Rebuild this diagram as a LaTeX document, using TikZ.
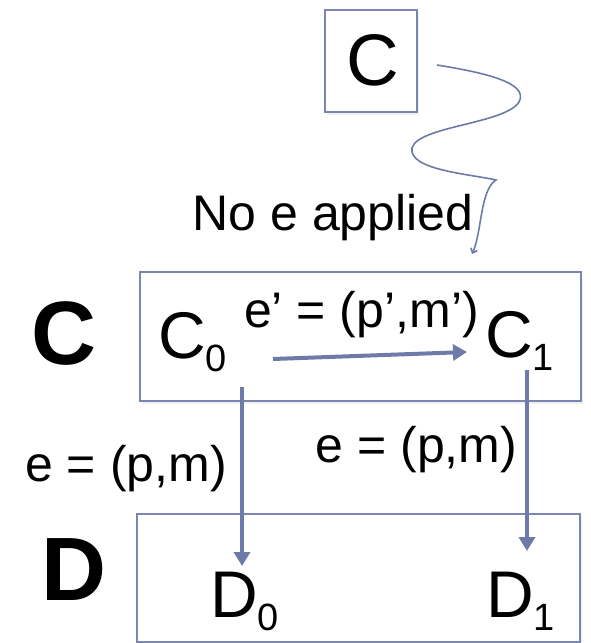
\documentclass[tikz,border=0pt]{standalone}
\usepackage{fontspec}
\setmainfont{Liberation Sans}
\usetikzlibrary{arrows.meta,shadows}
\definecolor{edgeblue}{RGB}{110,123,168}
\definecolor{boxblue}{RGB}{122,134,176}
\tikzset{
  framebox/.style={draw=boxblue,line width=1.5pt,fill=white,inner sep=0pt,
    drop shadow={shadow xshift=1.5pt,shadow yshift=-3pt,opacity=0.12}},
  bigarrow/.style={draw=edgeblue,line width=4pt,-{Triangle[width=16pt,length=14pt]}},
  thinarrow/.style={draw=edgeblue,line width=1.6pt,-{Straight Barb[width=7pt,length=4pt]}},
  lbl/.style={inner sep=0pt,font=\fontsize{50}{58}\selectfont},
  big/.style={inner sep=0pt,font=\fontsize{66}{74}\selectfont},
  huge/.style={inner sep=0pt,font=\fontsize{90}{96}\selectfont\bfseries}
}
\newcommand{\subsc}[1]{\raisebox{-0.21em}{\fontsize{38}{44}\selectfont #1}}
\begin{document}
\begin{tikzpicture}[x=1pt,y=-1pt]
\useasboundingbox (0,0) rectangle (590,643);
% boxes
\node[framebox,minimum width=92pt,minimum height=102pt] (cbox) at (371,61) {};
\node[framebox,minimum width=441pt,minimum height=129pt] (cbig) at (360.5,336.5) {};
\node[framebox,minimum width=443pt,minimum height=128pt] (dbig) at (358.5,578) {};
% texts
\node[inner sep=0pt,anchor=base,font=\fontsize{73}{80}\selectfont] (ctop) at (373,85) {C};
\node[lbl,anchor=base] (noe) at (333,230) {No e applied};
\node[huge,anchor=base] (Clab) at (64,364) {C};
\node[huge,anchor=base] (Dlab) at (73.5,600) {D};
\node[big,anchor=base west] (c0) at (158,358) {C\subsc{0}};
\node[big,anchor=base west] (c1) at (485,357) {C\subsc{1}};
\node[big,anchor=base west] (d0) at (210,617) {D\subsc{0}};
\node[big,anchor=base west] (d1) at (486,617) {D\subsc{1}};
\node[lbl,anchor=base] (ep) at (361.5,327) {e’ = (p’,m’)};
\node[lbl,anchor=base] (el) at (126,481) {e = (p,m)};
\node[lbl,anchor=base] (er) at (416.5,462) {e = (p,m)};
% connector endpoints
\coordinate (w0) at (437,65);
\coordinate (w1) at (472,254);
\coordinate (h0) at (273,359);
\coordinate (h1) at (467,352);
\coordinate (v0a) at (242,387);
\coordinate (v0b) at (242,566);
\coordinate (v1a) at (527,370);
\coordinate (v1b) at (527,551);
% connectors
\draw[thinarrow] (w0) .. controls (480,72) and (530,82) .. (519,102)
  .. controls (505,124) and (418,126) .. (412,148)
  .. controls (408,170) and (470,174) .. (496,180)
  .. controls (480,190) and (482,232) .. (w1);
\draw[bigarrow] (h0) -- (h1);
\draw[bigarrow] (v0a) -- (v0b);
\draw[bigarrow] (v1a) -- (v1b);
\end{tikzpicture}
\end{document}
